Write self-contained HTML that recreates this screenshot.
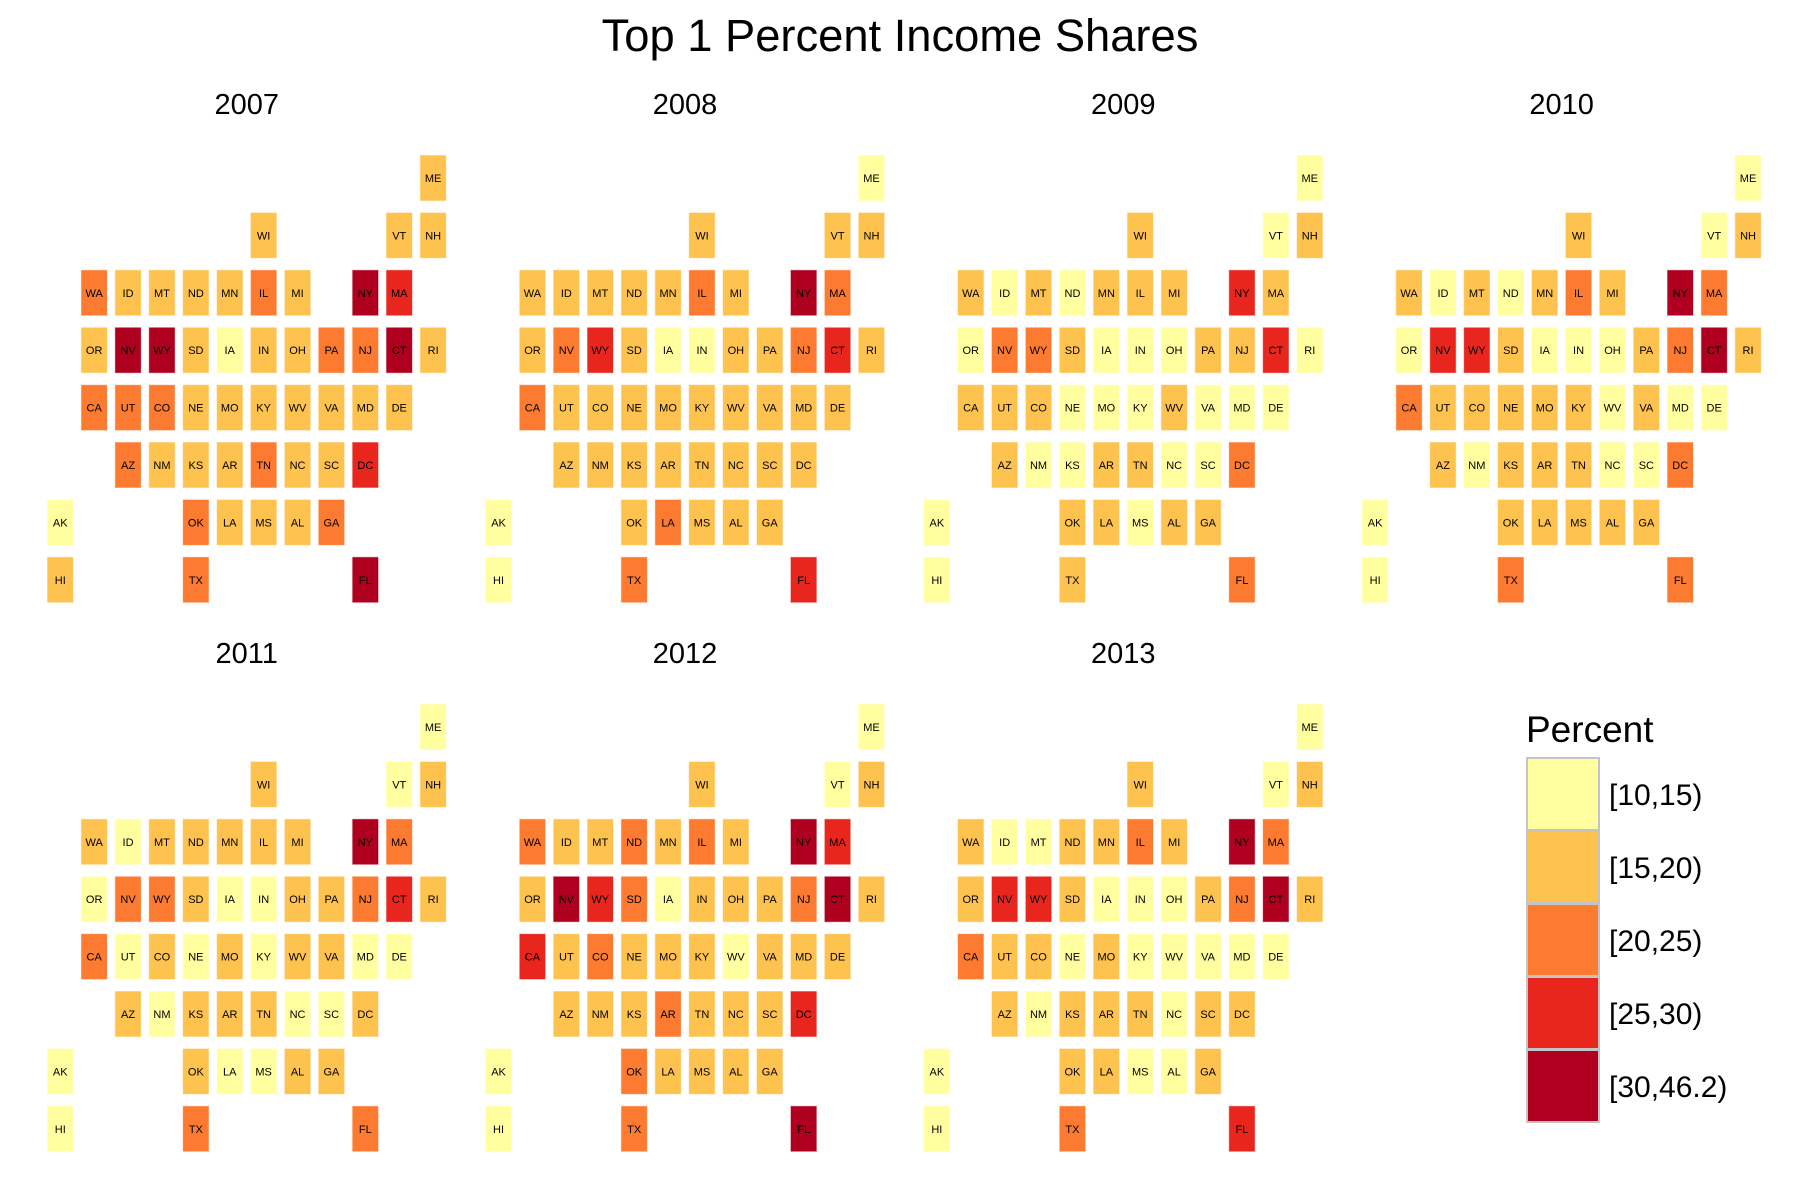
<!DOCTYPE html>
<html><head><meta charset="utf-8"><style>
html,body{margin:0;padding:0;background:#fff}
svg{display:block;font-family:"Liberation Sans",Arial,sans-serif}
</style></head><body>
<svg id="chart" width="1800" height="1200" viewBox="0 0 1800 1200" xmlns="http://www.w3.org/2000/svg">
<text x="900" y="51" font-size="45.3" text-anchor="middle" fill="#000">Top 1 Percent Income Shares</text>
<g id="panels"></g>
<g id="legend"></g>
</svg>
<script>
const states = ["ME","WI","VT","NH","WA","ID","MT","ND","MN","IL","MI","NY","MA","OR","NV","WY","SD","IA","IN","OH","PA","NJ","CT","RI","CA","UT","CO","NE","MO","KY","WV","VA","MD","DE","AZ","NM","KS","AR","TN","NC","SC","DC","AK","OK","LA","MS","AL","GA","HI","TX","FL"];
const gridCol = [11,6,10,11,1,2,3,4,5,6,7,9,10,1,2,3,4,5,6,7,8,9,10,11,1,2,3,4,5,6,7,8,9,10,2,3,4,5,6,7,8,9,0,4,5,6,7,8,0,4,9];
const gridRow = [0,1,1,1,2,2,2,2,2,2,2,2,2,3,3,3,3,3,3,3,3,3,3,3,4,4,4,4,4,4,4,4,4,4,5,5,5,5,5,5,5,5,6,6,6,6,6,6,7,7,7];
const years = ["2007","2008","2009","2010","2011","2012","2013"];
const v2007 = [17,17,17,17,22,17,17,17,17,22,17,33,27,17,33,33,17,13,17,17,22,22,33,17,22,22,22,17,17,17,17,17,17,17,22,17,17,17,22,17,17,27,13,22,17,17,17,22,17,22,33];
const v2008 = [13,17,17,17,17,17,17,17,17,22,17,33,22,17,22,27,17,13,13,17,17,22,27,17,22,17,17,17,17,17,17,17,17,17,17,17,17,17,17,17,17,17,13,17,22,17,17,17,13,22,27];
const v2009 = [13,17,13,17,17,13,17,13,17,17,17,27,17,13,22,22,17,13,13,13,17,17,27,13,17,17,17,13,13,13,17,13,13,13,17,13,13,17,17,13,13,22,13,17,17,13,17,17,13,17,22];
const v2010 = [13,17,13,17,17,13,17,13,17,22,17,33,22,13,27,27,17,13,13,13,17,22,33,17,22,17,17,17,17,17,13,17,13,13,17,13,17,17,17,13,13,22,13,17,17,17,17,17,13,22,22];
const v2011 = [13,17,13,17,17,13,17,17,17,17,17,33,22,13,22,22,17,13,13,17,17,22,27,17,22,13,17,13,17,13,17,17,13,13,17,13,17,17,17,13,13,17,13,17,13,13,17,17,13,22,22];
const v2012 = [13,17,13,17,22,17,17,22,17,22,17,33,27,17,33,27,22,13,17,17,17,22,33,17,27,17,22,17,17,17,13,17,17,17,17,17,17,22,17,17,17,27,13,22,17,17,17,17,13,22,33];
const v2013 = [13,17,13,17,17,13,13,17,17,22,17,33,22,17,27,27,17,13,13,13,17,22,33,17,22,17,17,13,17,13,13,13,13,13,17,13,17,17,17,13,17,17,13,17,17,13,13,17,13,22,27];
const yearValues = [v2007,v2008,v2009,v2010,v2011,v2012,v2013];
const breaks = [10,15,20,25,30,46.2];
const binLabels = ["[10,15)","[15,20)","[20,25)","[25,30)","[30,46.2)"];
const binColors = ["#FFFFA0","#FEC24E","#FC7B30","#E8261E","#AF0020"];

const NS="http://www.w3.org/2000/svg";
function mk(tag,attrs){const e=document.createElementNS(NS,tag);for(const k in attrs)e.setAttribute(k,attrs[k]);return e;}
function bin(v){for(let i=0;i<binLabels.length;i++){if(v>=breaks[i]&&v<breaks[i+1])return i;}return binLabels.length-1;}
const X0=47, PX=438.3, CX=33.9, TW=26.5, Y0=155, PY=549, RY=57.4, TH=46;
const panels=document.getElementById('panels');
years.forEach((yr,p)=>{
  const pc=p%4, pr=Math.floor(p/4);
  const g=mk('g',{});
  
  
  const ox=X0+PX*pc, oy=Y0+PY*pr;
  const t=mk('text',{x:ox+199.7,y:114+PY*pr,'font-size':29,'text-anchor':'middle',fill:'#000'});
  
  
  t.textContent=yr;g.appendChild(t);
  const vals=yearValues[p];
  states.forEach((s,i)=>{
    const x=ox+CX*gridCol[i], y=oy+RY*gridRow[i];
    const r=mk('rect',{x:x,y:y,width:TW,height:TH,fill:binColors[bin(vals[i])],stroke:'#fff','stroke-opacity':0.6,'stroke-width':1});
    
    
    g.appendChild(r);
    const l=mk('text',{x:x+TW/2,y:y+TH/2+4,'font-size':11,'text-anchor':'middle',fill:'#000'});
    
    
    l.textContent=s;g.appendChild(l);
  });
  panels.appendChild(g);
});
const lg=document.getElementById('legend');
const lt=mk('text',{x:1526,y:742,'font-size':37,fill:'#000'});


lt.textContent='Percent';lg.appendChild(lt);
binLabels.forEach((lab,i)=>{
  const y=758+73*i;
  const r=mk('rect',{x:1527,y:y,width:72,height:72,fill:binColors[i],stroke:'#c4c4c4','stroke-width':2});
  
  
  lg.appendChild(r);
  const t=mk('text',{x:1609,y:y+47,'font-size':30,fill:'#000'});
  
  
  t.textContent=lab;lg.appendChild(t);
});
</script>
</body></html>
